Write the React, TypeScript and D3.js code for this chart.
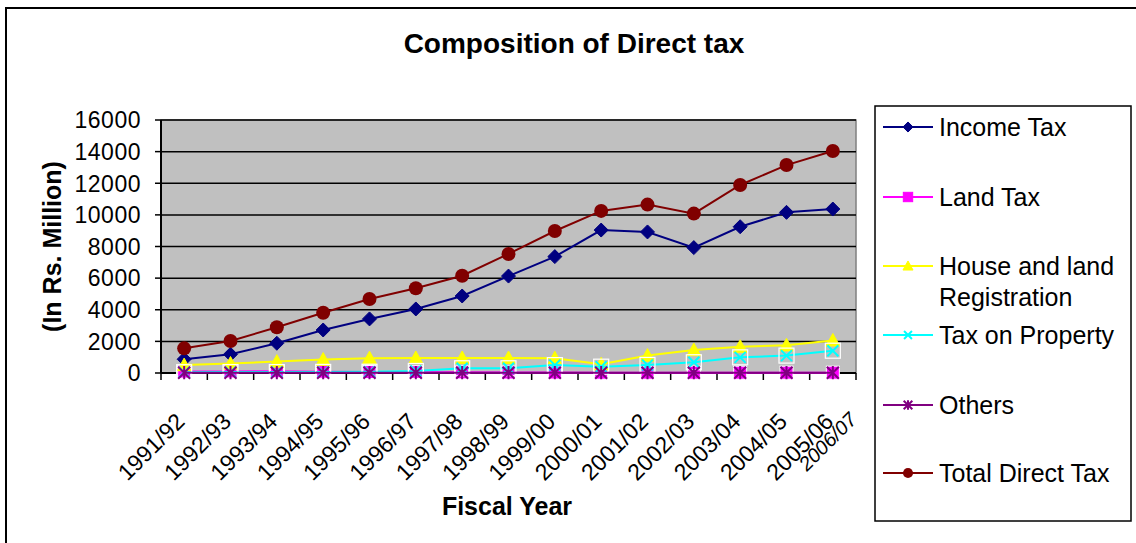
import React from "react";
import * as d3 from "d3";

const years = ["1991/92","1992/93","1993/94","1994/95","1995/96","1996/97","1997/98","1998/99","1999/00","2000/01","2001/02","2002/03","2003/04","2004/05","2005/06"];
const incomeTax = [870,1180,1880,2720,3420,4050,4870,6130,7360,9040,8920,7930,9250,10160,10370];
const landTax = [90,100,110,80,60,50,40,30,30,20,20,20,20,20,20];
const houseLand = [500,600,720,850,940,950,950,950,930,550,1100,1450,1660,1750,2060];
const taxProperty = [50,60,60,70,80,130,300,300,500,400,510,680,990,1100,1410];
const others = [20,20,20,20,20,20,20,20,20,20,20,20,20,20,20];
const totalDirect = [1560,2020,2890,3810,4680,5360,6150,7530,8980,10250,10650,10080,11890,13150,14040];
const yTicks = [0,2000,4000,6000,8000,10000,12000,14000,16000];
const extraLabel = "2006/07";

type Series = { name: string[]; values: number[]; color: string; marker: string };
const series: Series[] = [
  { name: ["Income Tax"], values: incomeTax, color: "#000080", marker: "diamond" },
  { name: ["Land Tax"], values: landTax, color: "#FF00FF", marker: "square" },
  { name: ["House and land", "Registration"], values: houseLand, color: "#FFFF00", marker: "triangle" },
  { name: ["Tax on Property"], values: taxProperty, color: "#00FFFF", marker: "x" },
  { name: ["Others"], values: others, color: "#800080", marker: "star" },
  { name: ["Total Direct Tax"], values: totalDirect, color: "#800000", marker: "circle" },
];

const FONT = "'Liberation Sans', Arial, sans-serif";

function Marker({ type, x, y, color, legend }: { type: string; x: number; y: number; color: string; legend?: boolean }) {
  const s = legend ? 0.72 : 1;
  switch (type) {
    case "diamond": {
      const r = 7 * s;
      return <path d={`M${x},${y - r}L${x + r},${y}L${x},${y + r}L${x - r},${y}Z`} fill={color} stroke={color} />;
    }
    case "square": {
      const r = 6.5 * s;
      return <rect x={x - r} y={y - r} width={2 * r} height={2 * r} fill={color} stroke={legend ? color : "#fff"} strokeWidth={1} />;
    }
    case "triangle": {
      const r = 7 * s;
      return <path d={`M${x},${y - r}L${x + r},${y + r * 0.8}L${x - r},${y + r * 0.8}Z`} fill={color} stroke={color} />;
    }
    case "x": {
      const r = 5.5 * s;
      return (
        <g>
          {!legend && <rect x={x - 7.5} y={y - 7.5} width={15} height={15} fill="none" stroke="#fff" strokeWidth={1.2} />}
          <path d={`M${x - r},${y - r}L${x + r},${y + r}M${x - r},${y + r}L${x + r},${y - r}`} stroke={color} strokeWidth={2} />
        </g>
      );
    }
    case "star": {
      const r = 6 * s;
      return (
        <path
          d={`M${x - r},${y - r}L${x + r},${y + r}M${x - r},${y + r}L${x + r},${y - r}M${x},${y - r * 1.1}L${x},${y + r * 1.1}`}
          stroke={color}
          strokeWidth={2}
        />
      );
    }
    case "circle":
      return <circle cx={x} cy={y} r={7 * s} fill={color} />;
  }
  return null;
}

export default function App() {
  const W = 1136, H = 543;
  const left = 161, right = 856, top = 120, bottom = 373;
  const x = d3.scaleBand<string>().domain(years).range([left, right]);
  const y = d3.scaleLinear().domain([0, 16000]).range([bottom, top]);
  const cx = (i: number) => (x(years[i]) as number) + x.bandwidth() / 2;
  const line = (vals: number[]) =>
    d3.line<number>().x((_, i) => cx(i)).y((v) => y(v))(vals) as string;

  const legendY = [127, 197, 266, 335, 405, 473];

  return (
    <svg width={W} height={H} style={{ position: "absolute", left: 0, top: 0, background: "#fff" }} fontFamily={FONT}>
      <rect x={6} y={8} width={1140} height={545} fill="#fff" stroke="#000" strokeWidth={2} />
      <text x={574} y={53} textAnchor="middle" fontSize={28} fontWeight="bold">Composition of Direct tax</text>

      <rect x={left} y={top} width={right - left} height={bottom - top} fill="#C0C0C0" stroke="#808080" strokeWidth={1.5} />
      {yTicks.map((t) => (
        <g key={t}>
          {t > 0 && <line x1={left} x2={right} y1={y(t)} y2={y(t)} stroke="#000" strokeWidth={1.5} />}
          <line x1={left - 6} x2={left} y1={y(t)} y2={y(t)} stroke="#000" strokeWidth={1.5} />
          <text x={141} y={y(t)} dy="0.36em" textAnchor="end" fontSize={23} letterSpacing={0.5}>{t}</text>
        </g>
      ))}
      <line x1={left} x2={left} y1={top} y2={bottom} stroke="#000" strokeWidth={2} />
      <line x1={left} x2={right} y1={bottom} y2={bottom} stroke="#000" strokeWidth={2} />
      {years.map((yr) => (
        <line key={"t" + yr} x1={x(yr) as number} x2={x(yr) as number} y1={bottom} y2={bottom + 7} stroke="#000" strokeWidth={1.5} />
      ))}
      <line x1={right} x2={right} y1={bottom} y2={bottom + 7} stroke="#000" strokeWidth={1.5} />
      {years.map((yr, i) => (
        <text key={"l" + yr} transform={`translate(${cx(i) + 2},${bottom + 50}) rotate(-45)`} textAnchor="end" fontSize={23}>{yr}</text>
      ))}
      <text transform={`translate(${right + 2},${bottom + 48}) rotate(-45)`} textAnchor="end" fontSize={20} fontStyle="italic">{extraLabel}</text>

      <text transform={`translate(61,${(top + bottom) / 2}) rotate(-90)`} textAnchor="middle" fontSize={25} fontWeight="bold">(In Rs. Million)</text>
      <text x={507} y={515} textAnchor="middle" fontSize={25} fontWeight="bold">Fiscal Year</text>

      {series.map((s) => (
        <g key={s.name[0]}>
          <path d={line(s.values)} fill="none" stroke={s.color} strokeWidth={2} />
          {s.values.map((v, i) => (
            <Marker key={i} type={s.marker} x={cx(i)} y={y(v)} color={s.color} />
          ))}
        </g>
      ))}

      <rect x={875} y={106} width={256} height={415} fill="#fff" stroke="#000" strokeWidth={1.5} />
      {series.map((s, k) => (
        <g key={"lg" + k}>
          <line x1={883} x2={933} y1={legendY[k]} y2={legendY[k]} stroke={s.color} strokeWidth={2} />
          <Marker type={s.marker} x={908} y={legendY[k]} color={s.color} legend />
          {s.name.map((n, j) => (
            <text key={j} x={939} y={legendY[k] + j * 31} dy="0.36em" fontSize={25}>{n}</text>
          ))}
        </g>
      ))}
    </svg>
  );
}
